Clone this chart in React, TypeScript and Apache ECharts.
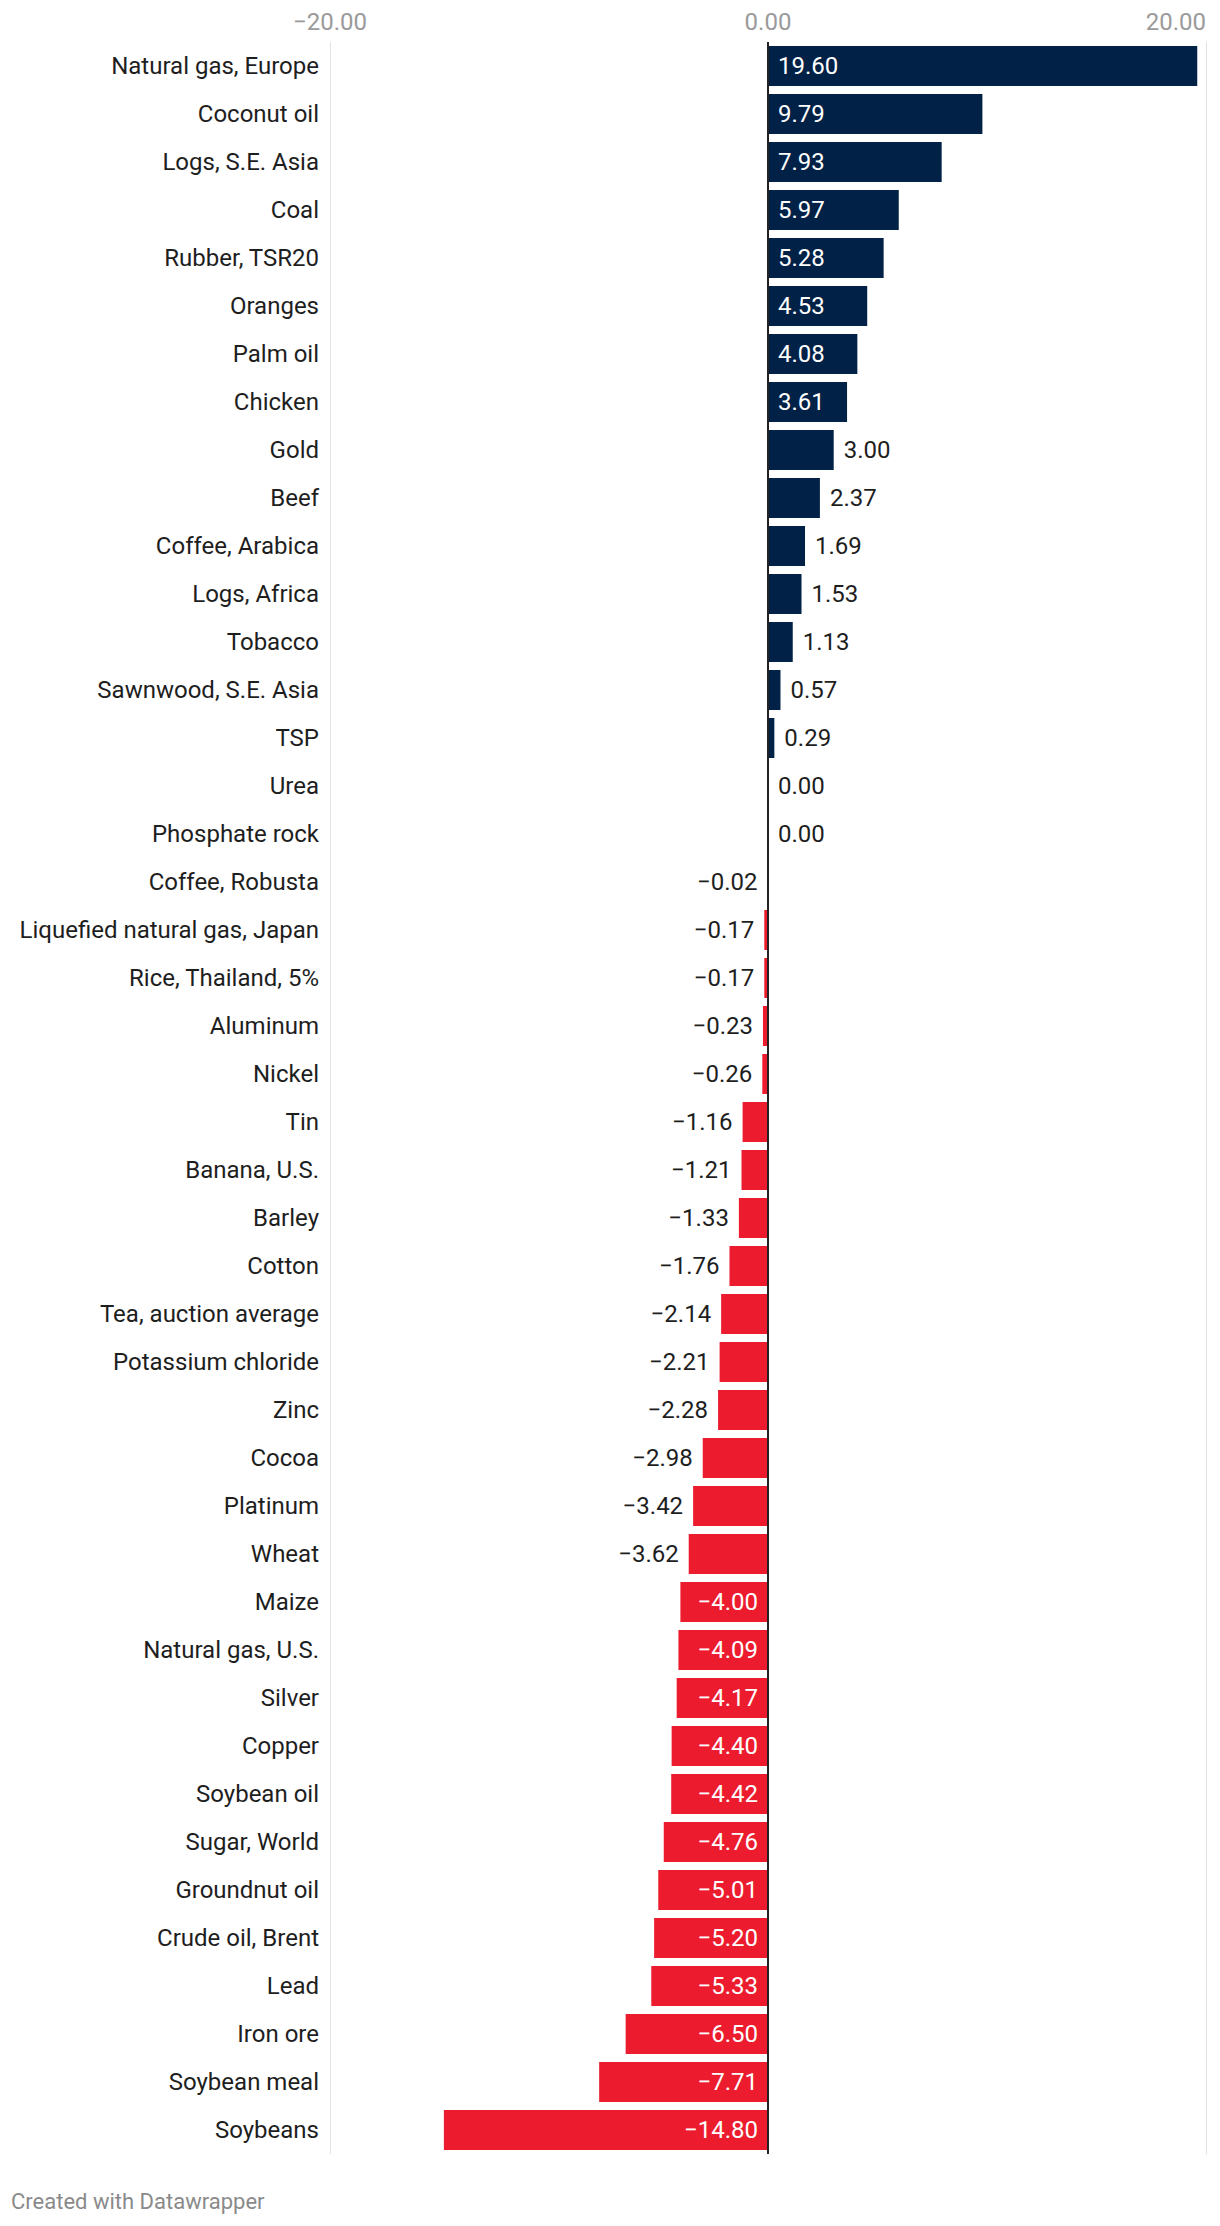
import React, { useEffect, useRef } from "react";
import * as echarts from "echarts";

const categories: string[] = [
  "Natural gas, Europe", "Coconut oil", "Logs, S.E. Asia", "Coal", "Rubber, TSR20",
  "Oranges", "Palm oil", "Chicken", "Gold", "Beef", "Coffee, Arabica", "Logs, Africa",
  "Tobacco", "Sawnwood, S.E. Asia", "TSP", "Urea", "Phosphate rock", "Coffee, Robusta",
  "Liquefied natural gas, Japan", "Rice, Thailand, 5%", "Aluminum", "Nickel", "Tin",
  "Banana, U.S.", "Barley", "Cotton", "Tea, auction average", "Potassium chloride",
  "Zinc", "Cocoa", "Platinum", "Wheat", "Maize", "Natural gas, U.S.", "Silver",
  "Copper", "Soybean oil", "Sugar, World", "Groundnut oil", "Crude oil, Brent",
  "Lead", "Iron ore", "Soybean meal", "Soybeans",
];

const values: number[] = [
  19.6, 9.79, 7.93, 5.97, 5.28, 4.53, 4.08, 3.61, 3.0, 2.37, 1.69, 1.53, 1.13, 0.57,
  0.29, 0.0, 0.0, -0.02, -0.17, -0.17, -0.23, -0.26, -1.16, -1.21, -1.33, -1.76,
  -2.14, -2.21, -2.28, -2.98, -3.42, -3.62, -4.0, -4.09, -4.17, -4.4, -4.42, -4.76,
  -5.01, -5.2, -5.33, -6.5, -7.71, -14.8,
];

const axisMin = -20;
const axisMax = 20;
const axisStep = 20;

const POS = "#012147";
const NEG = "#ec1c2e";

const fmt = (v: number) => {
  const s = Math.abs(v).toFixed(2);
  return v < 0 ? "\u2212" + s : s;
};

export default function App() {
  const ref = useRef<HTMLDivElement>(null);
  useEffect(() => {
    if (!ref.current) return;
    const chart = echarts.init(ref.current, null, { renderer: "svg" });
    const gridLeft = 330;
    const gridRight = 14;
    const plotW = 1220 - gridLeft - gridRight;
    const pxPerUnit = plotW / (axisMax - axisMin);
    const fontSize = 24;
    const estWidth = (s: string) => {
      let w = 0;
      for (const c of s) {
        if (c === ".") w += 0.26;
        else if (c === "\u2212") w += 0.57;
        else w += 0.56;
      }
      return w * fontSize;
    };
    const data = values.map((v) => {
      const label = fmt(v);
      const barPx = Math.abs(v) * pxPerUnit;
      const inside = barPx >= estWidth(label) + 20;
      let position: string;
      if (v > 0) position = inside ? "insideLeft" : "right";
      else if (v < 0) position = inside ? "insideRight" : "left";
      else position = "right";
      return {
        value: v,
        itemStyle: { color: v >= 0 ? POS : NEG },
        label: {
          show: true,
          position,
          distance: 10,
          color: inside ? "#ffffff" : "#1e1e1e",
          formatter: label,
        },
      };
    });
    chart.setOption({
      animation: false,
      textStyle: { fontFamily: "Roboto" },
      grid: { left: gridLeft, right: gridRight, top: 42, height: 2112 },
      xAxis: {
        type: "value",
        position: "top",
        min: axisMin,
        max: axisMax,
        interval: axisStep,
        axisLine: { show: false },
        axisTick: { show: false },
        splitLine: { show: true, lineStyle: { color: "#e3e3e3", width: 1 } },
        axisLabel: {
          color: "#9a9a9a",
          fontSize,
          fontFamily: "Roboto",
          margin: 8,
          formatter: (v: number) => fmt(v),
          alignMaxLabel: "right",
        },
      },
      yAxis: {
        type: "category",
        data: categories,
        inverse: true,
        axisLine: { show: false },
        axisTick: { show: false },
        splitLine: { show: false },
        axisLabel: {
          color: "#1e1e1e",
          fontSize,
          fontFamily: "Roboto",
          margin: 11,
        },
      },
      series: [
        {
          type: "bar",
          data,
          barWidth: 40,
          label: { fontSize, fontFamily: "Roboto" },
          markLine: {
            silent: true,
            symbol: "none",
            label: { show: false },
            lineStyle: { color: "#222222", width: 2, type: "solid" },
            data: [{ xAxis: 0 }],
            z: 10,
          },
        },
      ],
      graphic: [
        {
          type: "text",
          left: 11,
          top: 2190,
          style: {
            text: "Created with Datawrapper",
            fill: "#8a8a8a",
            fontSize: 22,
            fontFamily: "Roboto",
          },
        },
      ],
    });
    return () => chart.dispose();
  }, []);
  return (
    <div
      ref={ref}
      style={{ position: "absolute", left: 0, top: 0, width: 1220, height: 2226 }}
    />
  );
}
